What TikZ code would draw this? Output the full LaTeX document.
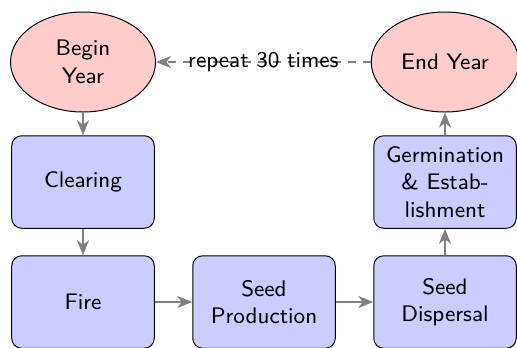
\documentclass[tikz,border=0pt]{standalone}
\usetikzlibrary{shapes.geometric,arrows.meta}

\begin{document}
\begin{tikzpicture}[font=\small\sffamily, x=0.4pt, y=0.4pt,
  block/.style={rectangle, draw, fill=blue!20, rounded corners=4pt,
    align=center, minimum width=57pt, minimum height=37pt},
  cloud/.style={ellipse, draw, fill=red!20, align=center,
    minimum width=58pt, minimum height=40pt},
  line/.style={draw, gray, thick, -{Stealth[length=6pt,width=4.8pt,inset=1.8pt]}}]

\useasboundingbox (0,0) rectangle (517,-347);

% ellipses
\node[cloud] (begin) at (83,-62) {Begin\\Year};
\node[cloud] (end) at (445,-62) {End Year};

% blocks
\node[block] (clear) at (83,-182) {Clearing};
\node[block] (fire) at (83,-302) {Fire};
\node[block] (prod) at (264,-302) {Seed\\Production};
\node[block] (disp) at (445,-302) {Seed\\Dispersal};
\node[block] (germ) at (445,-182) {Germination\\\& Estab-\\lishment};

\begin{scope}[line]
\draw (begin) -- (clear);
\draw (clear) -- (fire);
\draw (fire) -- (prod);
\draw (prod) -- (disp);
\draw (disp) -- (germ);
\draw (germ) -- (end);
\draw[dashed] (end) -- node[black] {repeat 30 times} (begin);
\end{scope}

\end{tikzpicture}
\end{document}
